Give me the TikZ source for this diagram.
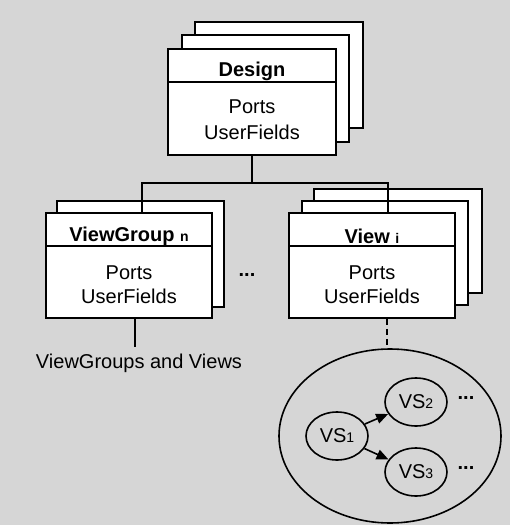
\documentclass[tikz,border=0pt]{standalone}
\usepackage{fontspec}
\setmainfont{Liberation Sans}
\usetikzlibrary{arrows.meta,shapes.geometric,calc}
\definecolor{bgray}{HTML}{D6D6D6}
\begin{document}
\begin{tikzpicture}[x=1pt,y=-1pt,
  box/.style={draw=black,fill=white,line width=1.6pt,rectangle,minimum width=#1,minimum height=105pt,inner sep=0pt},
  box/.default=167pt,
  ttl/.style={font=\fontsize{20}{20}\selectfont\bfseries,inner sep=0pt},
  txt/.style={font=\fontsize{20}{20}\selectfont,inner sep=0pt},
  conn/.style={line width=1.6pt},
  vs/.style={draw=black,ellipse,line width=1.6pt,minimum width=62pt,minimum height=48pt,inner sep=0pt,font=\fontsize{20}{20}\selectfont},
  arr/.style={line width=1.6pt,-{Triangle[length=12pt,width=10pt]}},
  dots/.style={font=\fontsize{20}{20}\selectfont\bfseries,inner sep=0pt}]
\newcommand{\smallidx}[1]{{\fontsize{14}{14}\selectfont #1}}
\useasboundingbox (0,0) rectangle (510,525);
\fill[bgray] (0,0) rectangle (510,525);
% Design stack
\node[box=168pt,minimum height=106pt] (d3) at (279,75) {};
\node[box=167pt,minimum height=107pt] (d2) at (265.5,88.5) {};
\node[box=168pt,minimum height=106pt] (design) at (252,102) {};
\draw[conn] ($(design.north west)+(0,34)$) -- ($(design.north east)+(0,34)$);
\node[ttl] (dt) at ($(design.north)+(0,23)$) {Design};
\node[txt] (dp) at ($(design.north)+(0,59)$) {Ports};
\node[txt] (du) at ($(design.north)+(0,84)$) {UserFields};
% ViewGroup stack
\node[box=167pt,minimum height=106pt] (vg2) at (140.5,254) {};
\node[box=166pt] (vg) at (129,265.5) {};
\draw[conn] ($(vg.north west)+(0,34)$) -- ($(vg.north east)+(0,34)$);
\node[ttl] (vgt) at ($(vg.north)+(0,24)$) {ViewGroup \smallidx{n}};
\node[txt] (vgp) at ($(vg.north)+(0,61)$) {Ports};
\node[txt] (vgu) at ($(vg.north)+(0,84)$) {UserFields};
% View stack
\node[box=168pt,minimum height=104pt] (v3) at (398,241) {};
\node[box=166pt,minimum height=104pt] (v2) at (385,253) {};
\node[box=166pt] (view) at (372,265.5) {};
\draw[conn] ($(view.north west)+(0,34)$) -- ($(view.north east)+(0,34)$);
\node[ttl] (vt) at ($(view.north)+(0,24)$) {View \smallidx{i}};
\node[txt] (vp) at ($(view.north)+(0,61)$) {Ports};
\node[txt] (vu) at ($(view.north)+(0,84)$) {UserFields};
% dots between
\node[dots] (mid) at (247,275) {...};
% tree connectors
\draw[conn] (design.south) -- ++(0,27) coordinate (j);
\draw[conn] (j) -| ([xshift=13pt]vg.north);
\draw[conn] (j) -| ([xshift=16pt]view.north);
% below viewgroup
\node[txt] (lbl) at (139,363) {ViewGroups and Views};
\draw[conn] ([xshift=6pt]vg.south) -- ++(0,28) coordinate (lt);
% big ellipse
\node[draw=black,ellipse,line width=1.6pt,minimum width=222pt,minimum height=174pt] (big) at (390,436) {};
\draw[conn,dash pattern=on 6pt off 4pt] ([xshift=15pt]view.south) -- ([xshift=15pt]view.south |- big.north);
\node[vs] (vs1) at (337,436) {VS\smallidx{1}};
\node[vs] (vs2) at (416,402) {VS\smallidx{2}};
\node[vs] (vs3) at (416,472) {VS\smallidx{3}};
\draw[arr] (vs1) -- (vs2);
\draw[arr] (vs1) -- (vs3);
\node[dots] (d2dots) at (466,398) {...};
\node[dots] (d3dots) at (466,468) {...};
\end{tikzpicture}
\end{document}
